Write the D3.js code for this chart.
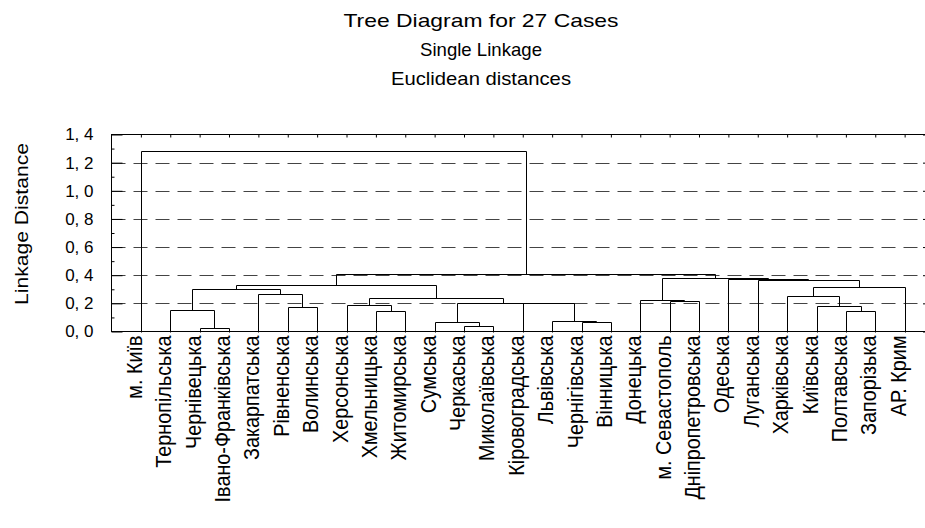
<!DOCTYPE html>
<html>
<head>
<meta charset="utf-8">
<script src="https://cdn.jsdelivr.net/npm/d3@7/dist/d3.min.js"></script>
<style>
  html, body { margin: 0; padding: 0; background: #fff; }
  svg { display: block; }
  text { font-family: "Liberation Sans", Arial, sans-serif; fill: #000; }
</style>
</head>
<body>
<svg id="chart" width="925" height="528"></svg>
<script>
// ---- data ----
const titleLines = ["Tree Diagram for 27 Cases", "Single Linkage", "Euclidean distances"];
const yTitle = "Linkage Distance";
const cases = [
  "м. Київ", "Тернопільська", "Чернівецька", "Івано-Франківська", "Закарпатська",
  "Рівненська", "Волинська", "Херсонська", "Хмельницька", "Житомирська",
  "Сумська", "Черкаська", "Миколаївська", "Кіровоградська", "Львівська",
  "Чернігівська", "Вінницька", "Донецька", "м. Севастополь", "Дніпропетровська",
  "Одеська", "Луганська", "Харківська", "Київська", "Полтавська",
  "Запорізька", "АР. Крим"
];
// linkage: node ids 0..26 are cases, merge k creates node 27+k
const mergeLeft  = [2, 11, 15, 10, 14, 24, 8, 1, 5, 23, 7, 13, 30, 18, 17, 37, 22, 4, 34, 43, 45, 21, 20, 41, 47, 0];
const mergeRight = [3, 12, 16, 28, 29, 25, 9, 27, 6, 32, 33, 31, 38, 19, 40, 39, 36, 35, 44, 26, 42, 46, 48, 49, 50, 51];
const mergeHeight = [0.026, 0.038, 0.064, 0.071, 0.073, 0.147, 0.149, 0.154, 0.171, 0.178, 0.190, 0.202, 0.206,
                     0.220, 0.225, 0.237, 0.249, 0.266, 0.301, 0.315, 0.334, 0.363, 0.371, 0.379, 0.410, 1.286];
const yTicks = [0, 0.2, 0.4, 0.6, 0.8, 1.0, 1.2, 1.4];
const yMinorTicks = [0.1, 0.3, 0.5, 0.7, 0.9, 1.1, 1.3];
const gridValues = [0.2, 0.4, 0.6, 0.8, 1.0, 1.2];

(function () {
  const svg = d3.select("#chart");
  const L = 111.5, R = 934, T = 134.5, B = 331.5;

  const x = d3.scaleLinear().domain([-1, cases.length]).range([L, R]);
  const y = d3.scaleLinear().domain([0, 1.4]).range([B, T]);

  // titles
  const titleBaselines = [27, 56, 85];
  const titleWidths = [275, 122, 180];
  titleLines.forEach((t, i) => {
    svg.append("text")
      .attr("x", 481).attr("y", titleBaselines[i])
      .attr("text-anchor", "middle")
      .attr("font-size", 19)
      .attr("textLength", titleWidths[i])
      .attr("lengthAdjust", "spacingAndGlyphs")
      .text(t);
  });

  // grid lines
  svg.append("g").selectAll("line").data(gridValues).join("line")
    .attr("x1", L).attr("x2", R)
    .attr("y1", d => Math.round(y(d)) + 0.5).attr("y2", d => Math.round(y(d)) + 0.5)
    .attr("stroke", "#444").attr("stroke-width", 1)
    .attr("stroke-dasharray", "14,8");

  // frame
  svg.append("rect")
    .attr("x", L).attr("y", T).attr("width", R - L).attr("height", B - T)
    .attr("fill", "none").attr("stroke", "#000").attr("stroke-width", 1);

  // left axis
  const yAxis = d3.axisLeft(y).tickValues(yTicks).tickSizeInner(-11).tickSizeOuter(0).tickPadding(18)
    .tickFormat(d => d3.format(".1f")(d).replace(".", ", "));
  const gy = svg.append("g").attr("transform", `translate(${L},0)`).call(yAxis);
  gy.select(".domain").remove();
  gy.selectAll("text").attr("font-size", 17).attr("font-family", "'Liberation Sans', Arial, sans-serif").attr("fill", "#000");
  gy.selectAll("line").attr("stroke", "#000");

  const gyMinor = svg.append("g").attr("transform", `translate(${L},0)`)
    .call(d3.axisLeft(y).tickValues(yMinorTicks).tickSizeInner(-3).tickSizeOuter(0).tickFormat(""));
  gyMinor.select(".domain").remove();

  // right axis (inward ticks)
  const gr = svg.append("g").attr("transform", `translate(${R},0)`)
    .call(d3.axisRight(y).tickValues(yTicks).tickSizeInner(-11).tickSizeOuter(0).tickFormat(""));
  gr.select(".domain").remove();

  // top axis ticks
  const gt = svg.append("g").attr("transform", `translate(0,${T})`)
    .call(d3.axisTop(x).tickValues(d3.range(cases.length)).tickSizeInner(-3).tickSizeOuter(0).tickFormat(""));
  gt.select(".domain").remove();

  // y title
  svg.append("text")
    .attr("transform", `translate(28,${(T + B) / 2 - 9}) rotate(-90)`)
    .attr("text-anchor", "middle")
    .attr("font-size", 19)
    .attr("textLength", 162)
    .attr("lengthAdjust", "spacingAndGlyphs")
    .text(yTitle);

  // x labels
  svg.append("g").selectAll("text").data(cases).join("text")
    .attr("transform", (d, i) => `translate(${x(i) + 1},${B + 4}) rotate(-90) scale(0.9,1)`)
    .attr("text-anchor", "end")
    .attr("font-size", 22)
    .text(d => d);

  // dendrogram
  const n = cases.length;
  const pos = d3.range(n);
  const hgt = d3.range(n).map(() => 0);
  mergeLeft.forEach((a, k) => {
    const b = mergeRight[k];
    pos.push((pos[a] + pos[b]) / 2);
    hgt.push(mergeHeight[k]);
  });
  const px = v => Math.round(x(v)) + 0.5;
  const py = v => Math.round(y(v)) + 0.5;
  svg.append("g").selectAll("path")
    .data(mergeLeft.map((a, k) => ({a, b: mergeRight[k], h: mergeHeight[k]})))
    .join("path")
    .attr("d", d => `M${px(pos[d.a])},${py(hgt[d.a])}V${py(d.h)}H${px(pos[d.b])}V${py(hgt[d.b])}`)
    .attr("fill", "none").attr("stroke", "#000").attr("stroke-width", 1);
})();
</script>
</body>
</html>
